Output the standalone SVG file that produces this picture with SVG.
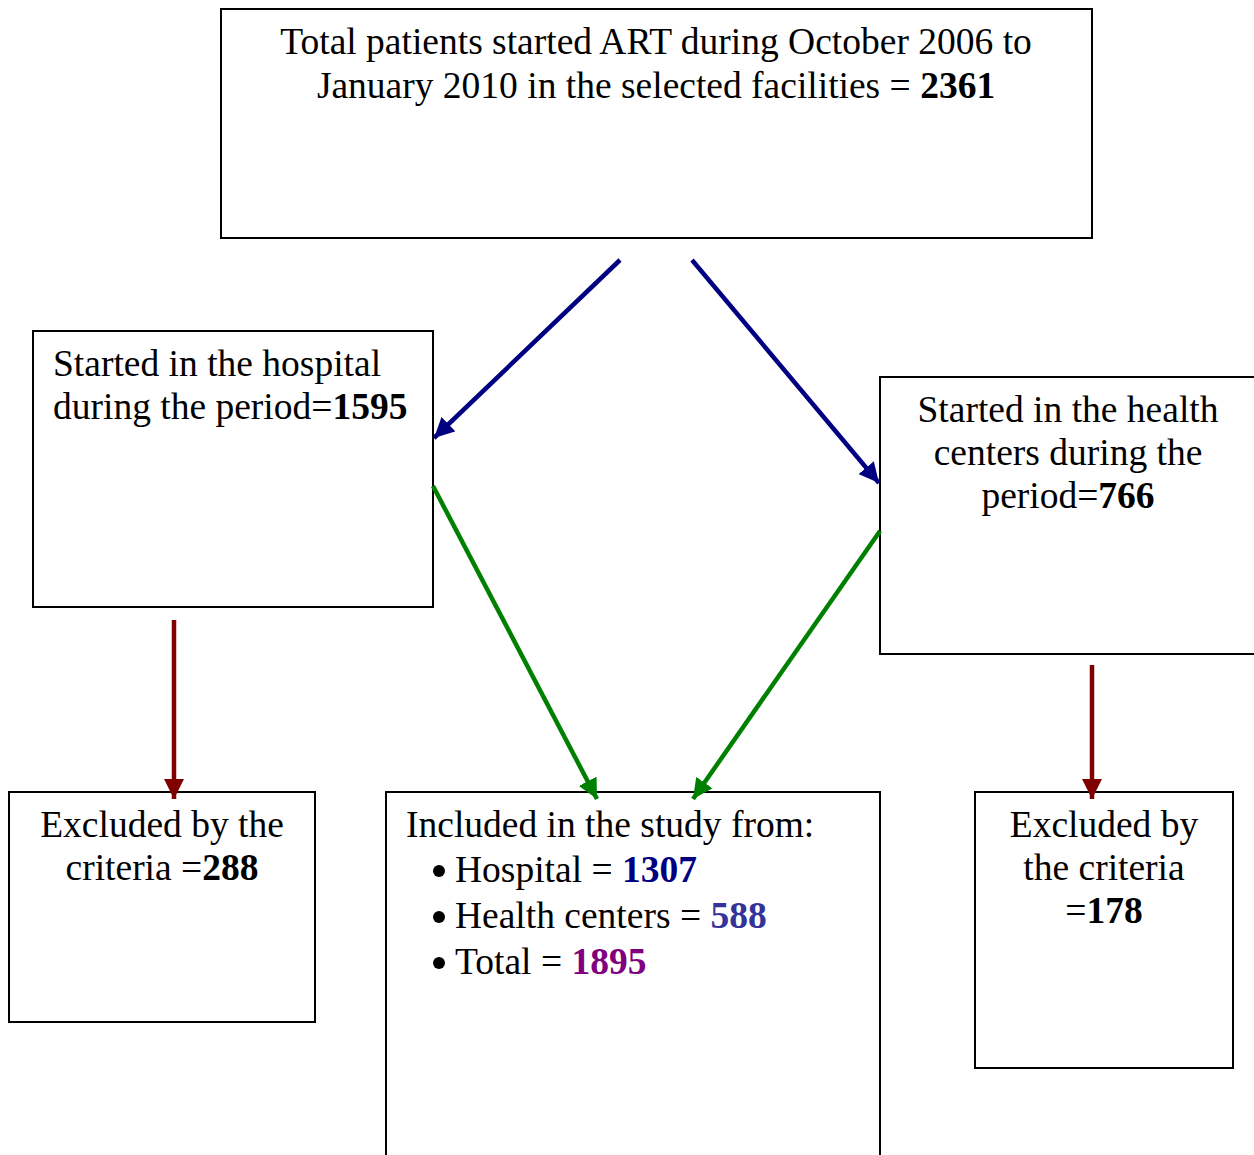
<svg xmlns="http://www.w3.org/2000/svg" width="1254" height="1155" viewBox="0 0 1254 1155">
<style>
.box{fill:#fff;stroke:#000;stroke-width:2}
text{font-family:"Liberation Serif","Times New Roman",serif;font-size:37.5px;fill:#000}
.c{text-anchor:middle}
.b{font-weight:bold}
.blue{stroke:#000080}
.green{stroke:#008000}
.red{stroke:#800000}
.con line{stroke-width:4.5;fill:none}
</style>
<defs>
<marker id="ab" markerUnits="userSpaceOnUse" markerWidth="20" markerHeight="20" refX="20" refY="10" orient="auto"><path d="M0,0 L20,10 L0,20 Z" fill="#000080"/></marker>
<marker id="ag" markerUnits="userSpaceOnUse" markerWidth="20" markerHeight="20" refX="20" refY="10" orient="auto"><path d="M0,0 L20,10 L0,20 Z" fill="#008000"/></marker>
<marker id="ar" markerUnits="userSpaceOnUse" markerWidth="20" markerHeight="20" refX="20" refY="10" orient="auto"><path d="M0,0 L20,10 L0,20 Z" fill="#800000"/></marker>
</defs>
<rect width="1254" height="1155" fill="#fff"/>
<g id="top">
<rect class="box" x="221" y="9" width="871" height="229"/>
<text class="c" x="656" y="54">Total patients started ART during October 2006 to</text>
<text class="c" x="656" y="98">January 2010 in the selected facilities = <tspan class="b">2361</tspan></text>
</g>
<g id="hospital">
<rect class="box" x="33" y="331" width="400" height="276"/>
<text x="53" y="376">Started in the hospital</text>
<text x="53" y="419">during the period=<tspan class="b">1595</tspan></text>
</g>
<g id="healthcenters">
<rect class="box" x="880" y="377" width="380" height="277"/>
<text class="c" x="1068" y="422">Started in the health</text>
<text class="c" x="1068" y="465">centers during the</text>
<text class="c" x="1068" y="508">period=<tspan class="b">766</tspan></text>
</g>
<g id="excluded-left">
<rect class="box" x="9" y="792" width="306" height="230"/>
<text class="c" x="162" y="837">Excluded by the</text>
<text class="c" x="162" y="880">criteria =<tspan class="b">288</tspan></text>
</g>
<g id="included">
<rect class="box" x="386" y="792" width="494" height="380"/>
<text x="406" y="837">Included in the study from:</text>
<circle cx="439" cy="871" r="6" fill="#000"/>
<text x="455" y="882">Hospital = <tspan class="b" fill="#000080">1307</tspan></text>
<circle cx="439" cy="917" r="6" fill="#000"/>
<text x="455" y="928">Health centers = <tspan class="b" fill="#333399">588</tspan></text>
<circle cx="439" cy="963" r="6" fill="#000"/>
<text x="455" y="974">Total = <tspan class="b" fill="#800080">1895</tspan></text>
</g>
<g id="excluded-right">
<rect class="box" x="975" y="792" width="258" height="276"/>
<text class="c" x="1104" y="837">Excluded by</text>
<text class="c" x="1104" y="880">the criteria</text>
<text class="c" x="1104" y="923">=<tspan class="b">178</tspan></text>
</g>
<g id="connectors" class="con">
<line class="blue" x1="620" y1="260" x2="434" y2="438" marker-end="url(#ab)"/>
<line class="blue" x1="692" y1="260" x2="879" y2="483" marker-end="url(#ab)"/>
<line class="green" x1="433" y1="486" x2="597" y2="799" marker-end="url(#ag)"/>
<line class="green" x1="880" y1="531" x2="693" y2="799" marker-end="url(#ag)"/>
<line class="red" x1="174" y1="620" x2="174" y2="799" marker-end="url(#ar)"/>
<line class="red" x1="1092" y1="665" x2="1092" y2="799" marker-end="url(#ar)"/>
</g>
</svg>
